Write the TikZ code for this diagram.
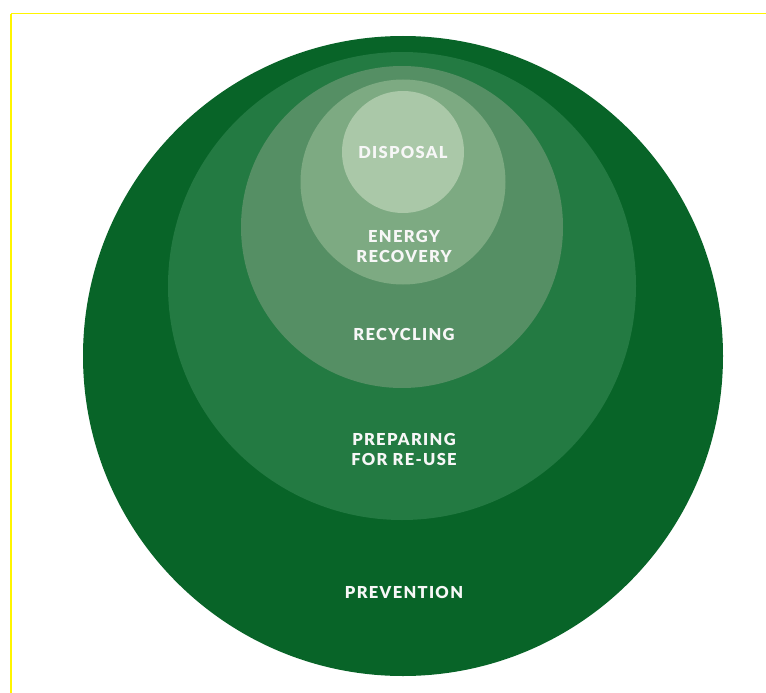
\documentclass[tikz,border=0pt]{standalone}
\usepackage{fontspec}
\setmainfont{Lato}
\newfontfamily\labelfont[LetterSpace=8]{Lato Black}
\definecolor{gA}{RGB}{8,100,40}
\definecolor{gB}{RGB}{35,122,66}
\definecolor{gC}{RGB}{85,143,100}
\definecolor{gD}{RGB}{125,170,130}
\definecolor{gE}{RGB}{170,200,168}
\definecolor{edgeY}{RGB}{255,245,0}
\tikzset{
  ring/.style={circle, minimum size=#1, inner sep=0pt, outer sep=0pt},
  lbl/.style={text=white!94!gray, font=\labelfont\fontsize{16.5}{20}\selectfont, align=center, inner sep=0pt}
}
\begin{document}
\begin{tikzpicture}[x=1pt,y=-1pt]
\useasboundingbox (0,0) rectangle (766,693);
\fill[white] (0,0) rectangle (766,693);
\draw[edgeY, line width=1pt] (11,693) -- (11,13.5) -- (766,13.5);
\draw[edgeY, line width=2pt] (11,693) -- (11,14);
\node[ring=640pt, fill=gA] (prev) at (403,356) {};
\node[ring=468pt, fill=gB] (prep) at (402,286) {};
\node[ring=322pt, fill=gC] (rec) at (402,227) {};
\node[ring=205pt, fill=gD] (en) at (403,182) {};
\node[ring=122pt, fill=gE] (disp) at (403,152) {};
\node[lbl] (tdisp) at (403,152) {DISPOSAL};
\node[lbl] (ten) at (404,246) {ENERGY\\RECOVERY};
\node[lbl] (trec) at (404,334) {RECYCLING};
\node[lbl] (tprep) at (404,449) {PREPARING\\FOR RE-USE};
\node[lbl] (tprev) at (404,592) {PREVENTION};
\end{tikzpicture}
\end{document}
